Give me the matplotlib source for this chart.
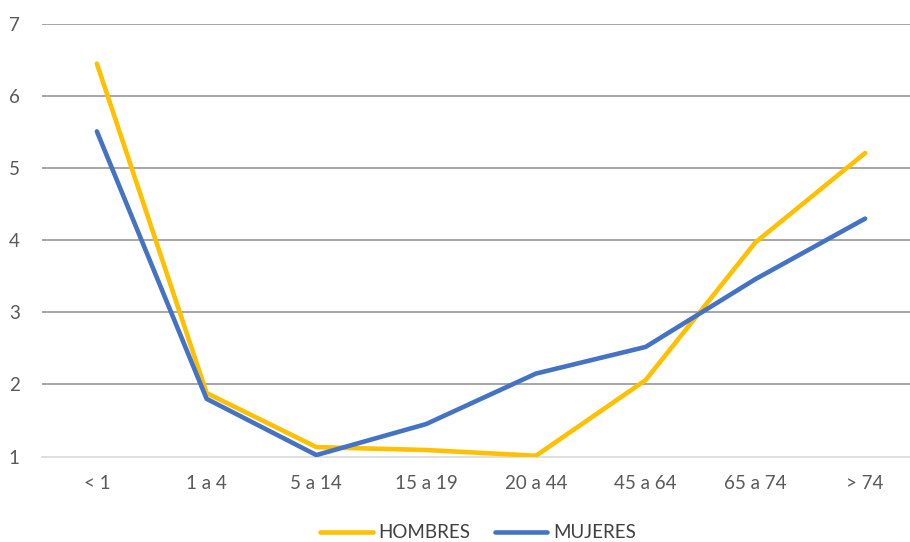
import matplotlib
matplotlib.use("Agg")
import matplotlib.pyplot as plt
from matplotlib.lines import Line2D

categories = ["< 1", "1 a 4", "5 a 14", "15 a 19", "20 a 44", "45 a 64", "65 a 74", "> 74"]
hombres = [6.45, 1.88, 1.13, 1.09, 1.01, 2.06, 3.97, 5.21]
mujeres = [5.51, 1.80, 1.02, 1.45, 2.15, 2.52, 3.46, 4.30]
yticks = [1, 2, 3, 4, 5, 6, 7]

plt.rcParams['font.family'] = ['Lato', 'DejaVu Sans']

W, H = 910, 542
fig = plt.figure(figsize=(W / 100, H / 100), dpi=100)
left_px, right_px = 42, 920
top_px, bottom_px = 24, 456.5
ax = fig.add_axes([left_px / W, (H - bottom_px) / H,
                   (right_px - left_px) / W, (bottom_px - top_px) / H])

x = list(range(len(categories)))
ax.plot(x, hombres, color="#FFC000", lw=3.3, solid_capstyle="round",
        solid_joinstyle="round", zorder=3, label="HOMBRES")
ax.plot(x, mujeres, color="#4472C4", lw=3.3, solid_capstyle="round",
        solid_joinstyle="round", zorder=4, label="MUJERES")

ax.set_xlim(-0.5, len(categories) - 0.5)
ax.set_ylim(1, 7)
ax.set_yticks(yticks)
ax.set_yticklabels([str(v) for v in yticks])
ax.set_xticks(x)
ax.set_xticklabels(categories)

for v in yticks[1:]:
    ax.axhline(v, color="#A6A6A6", lw=1.4, zorder=1)

for s in ["top", "right", "left"]:
    ax.spines[s].set_visible(False)
ax.spines["bottom"].set_color("#D9D9D9")
ax.spines["bottom"].set_linewidth(1.2)

fs = 13.5
ax.tick_params(axis="both", length=0, labelsize=fs, colors="#595959")
ax.tick_params(axis="y", pad=16)
ax.tick_params(axis="x", pad=13)

handles = [Line2D([0], [0], color="#FFC000", lw=3.3, solid_capstyle="round"),
           Line2D([0], [0], color="#4472C4", lw=3.3, solid_capstyle="round")]
leg = fig.legend(handles, ["HOMBRES", "MUJERES"], loc="center",
                 bbox_to_anchor=(478 / W, (H - 533) / H), ncol=2, frameon=False,
                 fontsize=fs, handlelength=2.8, handletextpad=0.3,
                 columnspacing=1.3, borderaxespad=0)
for t in leg.get_texts():
    t.set_color("#404040")

fig.savefig("out.png", dpi=100)
